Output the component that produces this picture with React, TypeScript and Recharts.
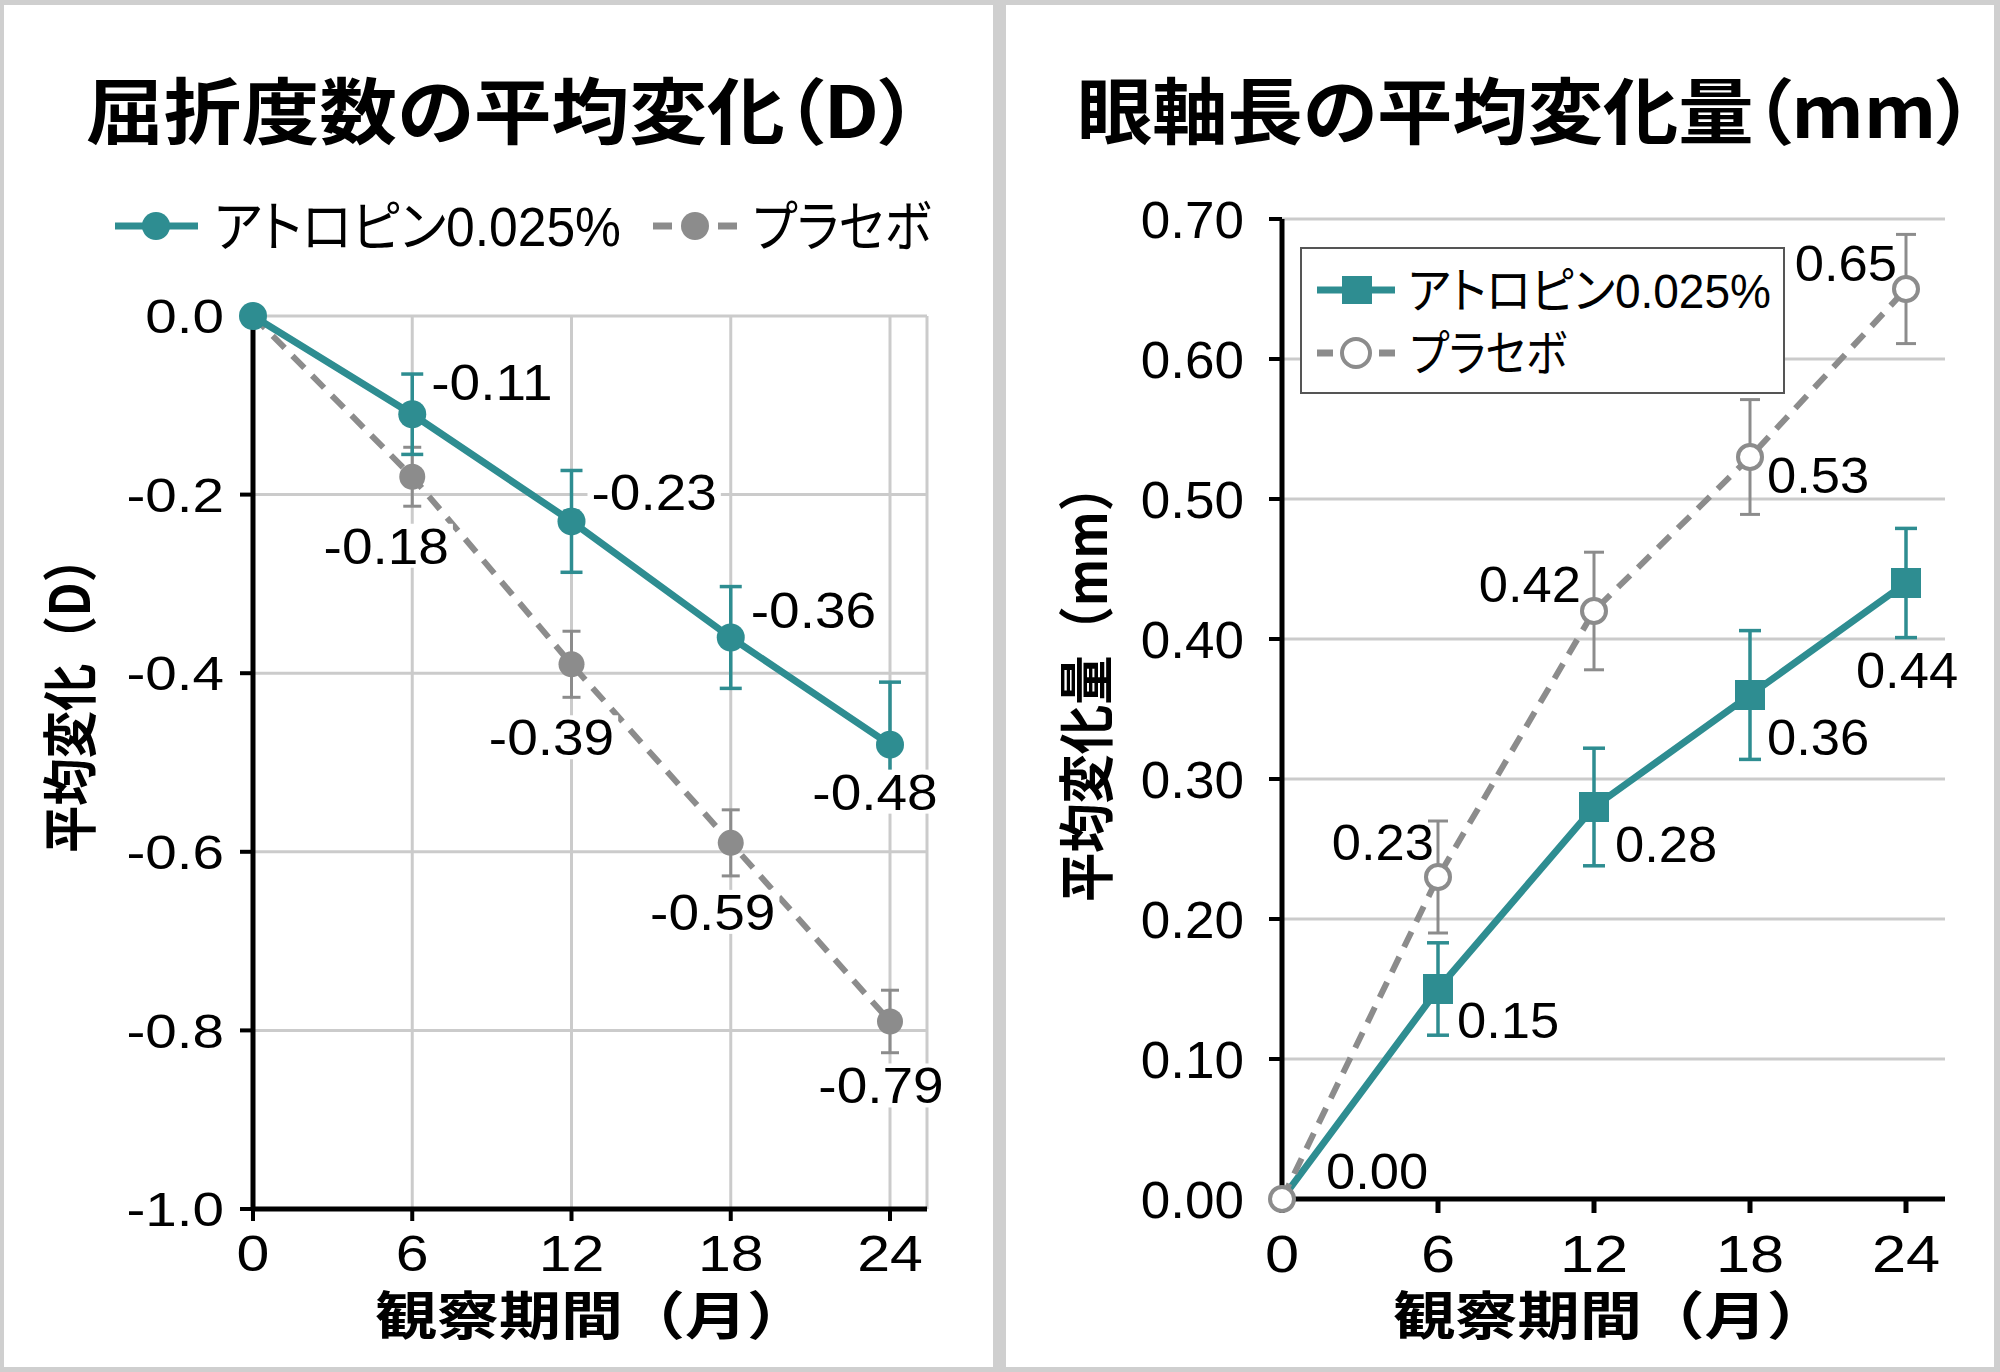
import React from 'react';
import { LineChart, Line, XAxis, YAxis, CartesianGrid, ErrorBar, LabelList, Legend } from 'recharts';

// follow-up months
const MONTHS = [0, 6, 12, 18, 24];

// refraction change (D)
const REF_ATROPINE = [0, -0.11, -0.23, -0.36, -0.48];
const REF_ATROPINE_ERR = [0, 0.045, 0.057, 0.057, 0.07];
const REF_PLACEBO = [0, -0.18, -0.39, -0.59, -0.79];
const REF_PLACEBO_ERR = [0, 0.033, 0.037, 0.037, 0.035];
const REF_TICKS = [0, -0.2, -0.4, -0.6, -0.8, -1.0];

// axial length change (mm)
const AXL_ATROPINE = [0, 0.15, 0.28, 0.36, 0.44];
const AXL_ATROPINE_ERR = [0, 0.033, 0.042, 0.046, 0.039];
const AXL_PLACEBO = [0, 0.23, 0.42, 0.53, 0.65];
const AXL_PLACEBO_ERR = [0, 0.04, 0.042, 0.041, 0.039];
const AXL_TICKS = [0, 0.1, 0.2, 0.3, 0.4, 0.5, 0.6, 0.7];

const SERIES_ATROPINE = 'アトロピン0.025%';
const SERIES_PLACEBO = 'プラセボ';

const TEAL = '#2e8d91';
const GRAY = '#8c8c8c';
const GRID = '#cbcbcb';
const NUM_FONT = '"Liberation Sans", Arial, Helvetica, sans-serif';
const JP_FONT = '"Noto Sans CJK JP", "Liberation Sans", sans-serif';
const MIX_FONT = '"Liberation Sans", "Noto Sans CJK JP", sans-serif';

const refData = MONTHS.map((m, i) => ({
  month: m,
  atr: REF_ATROPINE[i],
  atrErr: REF_ATROPINE_ERR[i],
  pla: REF_PLACEBO[i],
  plaErr: REF_PLACEBO_ERR[i],
}));

const axlData = MONTHS.map((m, i) => ({
  month: m,
  atr: AXL_ATROPINE[i],
  atrErr: AXL_ATROPINE_ERR[i],
  pla: AXL_PLACEBO[i],
  plaErr: AXL_PLACEBO_ERR[i],
}));

type Place = { dx: number; dy: number; anchor: 'start' | 'middle' | 'end' } | null;

// where each value label sits relative to its point
const REF_ATR_PLACE: Place[] = [
  null,
  { dx: 19, dy: -32, anchor: 'start' },
  { dx: 20, dy: -29, anchor: 'start' },
  { dx: 20, dy: -27, anchor: 'start' },
  { dx: -15, dy: 47, anchor: 'middle' },
];
const REF_PLA_PLACE: Place[] = [
  null,
  { dx: -26, dy: 69, anchor: 'middle' },
  { dx: -20, dy: 73, anchor: 'middle' },
  { dx: -18, dy: 69, anchor: 'middle' },
  { dx: -9, dy: 64, anchor: 'middle' },
];
const AXL_ATR_PLACE: Place[] = [
  { dx: 44, dy: -28, anchor: 'start' },
  { dx: 19, dy: 31, anchor: 'start' },
  { dx: 21, dy: 37, anchor: 'start' },
  { dx: 17, dy: 42, anchor: 'start' },
  { dx: 1, dy: 87, anchor: 'middle' },
];
const AXL_PLA_PLACE: Place[] = [
  null,
  { dx: -4, dy: -35, anchor: 'end' },
  { dx: -13, dy: -27, anchor: 'end' },
  { dx: 17, dy: 18, anchor: 'start' },
  { dx: -9, dy: -26, anchor: 'end' },
];

const textWidth = (s: string, size: number) =>
  s.split('').reduce((w, c) => w + (c === '.' ? 0.278 : c === '-' ? 0.333 : 0.556), 0) * size;

// numbers in this figure are set a little wider than Liberation Sans
function wideText(x: number, y: number, txt: string, size: number, sx: number, anchor: string) {
  return (
    <text
      transform={`translate(${x},${y}) scale(${sx},1)`}
      x={0}
      y={0}
      textAnchor={anchor}
      fontSize={size}
      fontFamily={NUM_FONT}
      fill="#000"
    >
      {txt}
    </text>
  );
}

function makeValueLabel(places: Place[], values: number[], sx: number, boxed: boolean) {
  const size = 50;
  return (props: any) => {
    const vb = props.viewBox || {};
    const x = props.x ?? vb.x;
    const y = props.y ?? vb.y;
    const idx = props.index ?? values.indexOf(Number(props.value));
    const p = places[idx];
    if (!p || x == null || y == null) return null;
    const txt = Number(props.value).toFixed(2);
    const tx = x + p.dx;
    const ty = y + p.dy;
    const w = textWidth(txt, size) * sx;
    const left = p.anchor === 'start' ? tx : p.anchor === 'middle' ? tx - w / 2 : tx - w;
    return (
      <g key={`lbl-${idx}`}>
        {boxed && <rect x={left - 4} y={ty - 22} width={w + 8} height={44} fill="#fff" />}
        {wideText(tx, ty + size * 0.36, txt, size, sx, p.anchor)}
      </g>
    );
  };
}

const yTick = (size: number, sx: number, digits: number) => (props: any) =>
  wideText(props.x, props.y + size * 0.36, Number(props.payload.value).toFixed(digits), size, sx, 'end');

const xTick = (size: number, sx: number) => (props: any) =>
  wideText(props.x, props.y + size * 0.72, String(props.payload.value), size, sx, 'middle');

const filledDot = (color: string, r: number) => (props: any) => (
  <circle key={`d-${props.index}`} cx={props.cx} cy={props.cy} r={r} fill={color} stroke="none" />
);

const squareDot = (props: any) =>
  props.index === 0 ? (
    <g key={`s-${props.index}`} />
  ) : (
    <rect key={`s-${props.index}`} x={props.cx - 15} y={props.cy - 15} width={30} height={30} fill={TEAL} stroke="none" />
  );

const openDot = (props: any) => (
  <circle
    key={`o-${props.index}`}
    cx={props.cx}
    cy={props.cy}
    r={12}
    fill="#fff"
    stroke={GRAY}
    strokeWidth={4}
    strokeDasharray="none"
  />
);

const palt = { fontFeatureSettings: '"palt" 1' };
const legendText = { fontFamily: MIX_FONT, fill: '#000', style: palt };

const refLegend = () => (
  <svg width={850} height={80} style={{ display: 'block', overflow: 'visible' }}>
    <line x1={15} x2={98} y1={36} y2={36} stroke={TEAL} strokeWidth={7} />
    <circle cx={56} cy={36} r={14} fill={TEAL} />
    <text x={114} y={36 + 55 * 0.36} fontSize={55} textLength={407} lengthAdjust="spacingAndGlyphs" {...legendText}>
      {SERIES_ATROPINE}
    </text>
    <line x1={553} x2={572} y1={36} y2={36} stroke={GRAY} strokeWidth={7} />
    <line x1={618} x2={637} y1={36} y2={36} stroke={GRAY} strokeWidth={7} />
    <circle cx={595} cy={36} r={14} fill={GRAY} />
    <text x={653} y={36 + 55 * 0.36} fontSize={55} textLength={178} lengthAdjust="spacingAndGlyphs" {...legendText}>
      {SERIES_PLACEBO}
    </text>
  </svg>
);

const axlLegend = () => (
  <svg width={485} height={147} style={{ display: 'block', overflow: 'visible' }}>
    <rect x={1} y={1} width={483} height={145} fill="#fff" stroke="#555" strokeWidth={2} />
    <line x1={17} x2={95} y1={43} y2={43} stroke={TEAL} strokeWidth={7} />
    <rect x={42} y={29} width={30} height={28} fill={TEAL} />
    <text x={108} y={43 + 49 * 0.36} fontSize={49} textLength={363} lengthAdjust="spacingAndGlyphs" {...legendText}>
      {SERIES_ATROPINE}
    </text>
    <line x1={17} x2={33} y1={106} y2={106} stroke={GRAY} strokeWidth={7} />
    <line x1={79} x2={95} y1={106} y2={106} stroke={GRAY} strokeWidth={7} />
    <circle cx={56} cy={106} r={14} fill="#fff" stroke={GRAY} strokeWidth={4} />
    <text x={110} y={106 + 49 * 0.36} fontSize={49} textLength={157} lengthAdjust="spacingAndGlyphs" {...legendText}>
      {SERIES_PLACEBO}
    </text>
  </svg>
);

function RefractionChart() {
  return (
    <LineChart width={990} height={1372} data={refData} margin={{ top: 316, right: 63, bottom: 63, left: 143 }}>
      <CartesianGrid stroke={GRID} strokeWidth={3} />
      <XAxis
        type="number"
        dataKey="month"
        domain={[0, 24]}
        ticks={MONTHS}
        interval={0}
        padding={{ left: 0, right: 37 }}
        height={100}
        tick={xTick(50, 1.18)}
        tickSize={12}
        tickMargin={14}
        tickLine={{ stroke: '#000', strokeWidth: 4 }}
        axisLine={{ stroke: '#000', strokeWidth: 5 }}
      />
      <YAxis
        type="number"
        domain={[-1, 0]}
        ticks={REF_TICKS}
        interval={0}
        width={110}
        tick={yTick(48, 1.18, 1)}
        tickSize={13}
        tickMargin={16}
        tickLine={{ stroke: '#000', strokeWidth: 4 }}
        axisLine={{ stroke: '#000', strokeWidth: 5 }}
      />
      <Legend
        content={refLegend}
        layout="vertical"
        align="center"
        verticalAlign="middle"
        wrapperStyle={{ left: 100, top: 190, width: 850, height: 80 }}
      />
      <Line
        type="linear"
        dataKey="pla"
        name={SERIES_PLACEBO}
        stroke={GRAY}
        strokeWidth={6}
        strokeDasharray="17 11"
        dot={filledDot(GRAY, 13)}
        isAnimationActive={false}
      >
        <ErrorBar dataKey="plaErr" width={9} stroke={GRAY} strokeWidth={3} direction="y" isAnimationActive={false} />
        <LabelList dataKey="pla" content={makeValueLabel(REF_PLA_PLACE, REF_PLACEBO, 1.1, true)} />
      </Line>
      <Line
        type="linear"
        dataKey="atr"
        name={SERIES_ATROPINE}
        stroke={TEAL}
        strokeWidth={7}
        dot={filledDot(TEAL, 14)}
        isAnimationActive={false}
      >
        <ErrorBar dataKey="atrErr" width={11} stroke={TEAL} strokeWidth={3.5} direction="y" isAnimationActive={false} />
        <LabelList dataKey="atr" content={makeValueLabel(REF_ATR_PLACE, REF_ATROPINE, 1.1, true)} />
      </Line>
    </LineChart>
  );
}

function AxialLengthChart() {
  return (
    <LineChart width={1000} height={1372} data={axlData} margin={{ top: 219, right: 55, bottom: 73, left: 152 }}>
      <CartesianGrid stroke={GRID} strokeWidth={3} vertical={false} />
      <XAxis
        type="number"
        dataKey="month"
        domain={[0, 24]}
        ticks={MONTHS}
        interval={0}
        padding={{ left: 0, right: 39 }}
        height={100}
        tick={xTick(52, 1.18)}
        tickSize={14}
        tickMargin={22}
        tickLine={{ stroke: '#000', strokeWidth: 5 }}
        axisLine={{ stroke: '#000', strokeWidth: 5 }}
      />
      <YAxis
        type="number"
        domain={[0, 0.7]}
        ticks={AXL_TICKS}
        interval={0}
        width={130}
        tick={yTick(52, 1.02, 2)}
        tickSize={13}
        tickMargin={25}
        tickLine={{ stroke: '#000', strokeWidth: 4 }}
        axisLine={{ stroke: '#000', strokeWidth: 5 }}
      />
      <Legend
        content={axlLegend}
        layout="vertical"
        align="center"
        verticalAlign="middle"
        wrapperStyle={{ left: 300, top: 247, width: 485, height: 147 }}
      />
      <Line
        type="linear"
        dataKey="atr"
        name={SERIES_ATROPINE}
        stroke={TEAL}
        strokeWidth={7}
        dot={squareDot}
        isAnimationActive={false}
      >
        <ErrorBar dataKey="atrErr" width={11} stroke={TEAL} strokeWidth={3.5} direction="y" isAnimationActive={false} />
        <LabelList dataKey="atr" content={makeValueLabel(AXL_ATR_PLACE, AXL_ATROPINE, 1.05, false)} />
      </Line>
      <Line
        type="linear"
        dataKey="pla"
        name={SERIES_PLACEBO}
        stroke={GRAY}
        strokeWidth={6}
        strokeDasharray="17 11"
        dot={openDot}
        isAnimationActive={false}
      >
        <ErrorBar dataKey="plaErr" width={10} stroke={GRAY} strokeWidth={3} direction="y" isAnimationActive={false} />
        <LabelList dataKey="pla" content={makeValueLabel(AXL_PLA_PLACE, AXL_PLACEBO, 1.05, false)} />
      </Line>
    </LineChart>
  );
}

const jpTitle = { fontFamily: JP_FONT, fontWeight: 700, fill: '#000' } as const;

export default function App() {
  return (
    <div style={{ position: 'absolute', left: 0, top: 0, width: 2000, height: 1372, background: '#cfcfcf', overflow: 'hidden' }}>
      <div style={{ position: 'absolute', left: 4, top: 5, width: 989, height: 1362, background: '#fff' }} />
      <div style={{ position: 'absolute', left: 1006, top: 5, width: 988, height: 1362, background: '#fff' }} />
      <div style={{ position: 'absolute', left: 0, top: 0 }}>
        <RefractionChart />
      </div>
      <div style={{ position: 'absolute', left: 1000, top: 0 }}>
        <AxialLengthChart />
      </div>
      <svg
        width={2000}
        height={1372}
        style={{ position: 'absolute', left: 0, top: 0, pointerEvents: 'none' }}
      >
        <text x={86} y={106} dominantBaseline="central" fontSize={72} textLength={832} lengthAdjust="spacingAndGlyphs" style={palt} {...jpTitle}>
          屈折度数の平均変化（D）
        </text>
        <text x={1077} y={106} dominantBaseline="central" fontSize={72} textLength={897} lengthAdjust="spacingAndGlyphs" style={palt} {...jpTitle}>
          眼軸長の平均変化量（mm）
        </text>
        <text
          transform="translate(66,694) rotate(-90)"
          textAnchor="middle"
          dominantBaseline="central"
          fontSize={55}
          textLength={318}
          lengthAdjust="spacingAndGlyphs"
          {...jpTitle}
        >
          平均変化（D）
        </text>
        <text
          transform="translate(1082,682) rotate(-90)"
          textAnchor="middle"
          dominantBaseline="central"
          fontSize={56}
          textLength={440}
          lengthAdjust="spacingAndGlyphs"
          {...jpTitle}
        >
          平均変化量（mm）
        </text>
        <text x={592} y={1312} textAnchor="middle" dominantBaseline="central" fontSize={52} textLength={434} lengthAdjust="spacingAndGlyphs" {...jpTitle}>
          観察期間（月）
        </text>
        <text x={1611} y={1312} textAnchor="middle" dominantBaseline="central" fontSize={52} textLength={436} lengthAdjust="spacingAndGlyphs" {...jpTitle}>
          観察期間（月）
        </text>
      </svg>
    </div>
  );
}
